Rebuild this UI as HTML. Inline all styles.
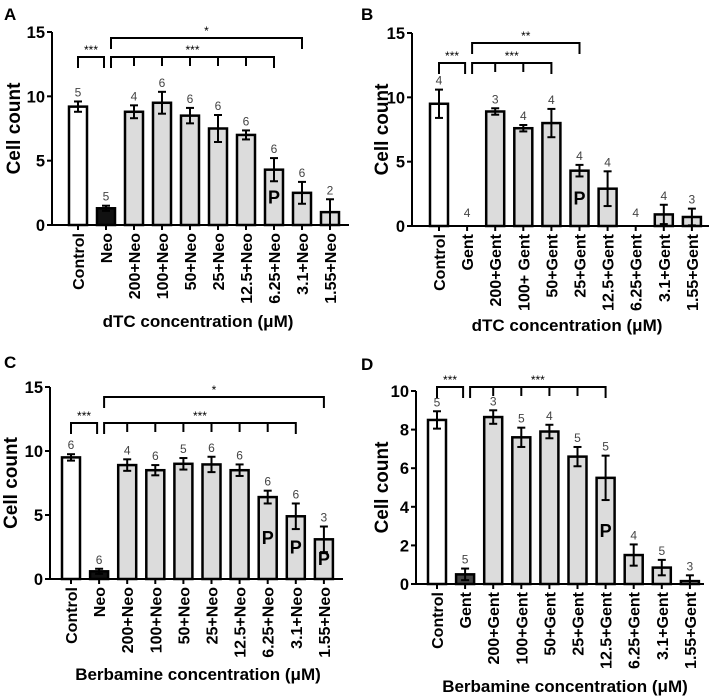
<!DOCTYPE html>
<html><head><meta charset="utf-8"><style>
html,body{margin:0;padding:0;background:#fff;}
svg{display:block;font-family:"Liberation Sans",Arial,sans-serif;}
</style></head><body>
<svg id="fig" width="714" height="697" viewBox="0 0 714 697"></svg>
<script>
// Panel A data
const catsA = ["Control","Neo","200+Neo","100+Neo","50+Neo","25+Neo","12.5+Neo","6.25+Neo","3.1+Neo","1.55+Neo"];
const valsA = [9.2,1.3,8.8,9.5,8.5,7.5,7.0,4.3,2.5,1.0];
const errsA = [0.4,0.2,0.5,0.85,0.6,1.05,0.35,0.9,0.85,1.0];
const nA = ["5","5","4","6","6","6","6","6","6","2"];
const pA = [7];
// Panel B data
const catsB = ["Control","Gent","200+Gent","100+ Gent","50+Gent","25+Gent","12.5+Gent","6.25+Gent","3.1+Gent","1.55+Gent"];
const valsB = [9.5,0,8.9,7.6,8.0,4.3,2.9,0,0.9,0.7];
const errsB = [1.1,0,0.25,0.25,1.1,0.45,1.35,0,0.75,0.65];
const nB = ["4","4","3","4","4","4","4","4","4","3"];
const pB = [5];
// Panel C data
const catsC = ["Control","Neo","200+Neo","100+Neo","50+Neo","25+Neo","12.5+Neo","6.25+Neo","3.1+Neo","1.55+Neo"];
const valsC = [9.5,0.6,8.9,8.5,9.0,8.95,8.5,6.4,4.9,3.1];
const errsC = [0.25,0.2,0.45,0.4,0.45,0.6,0.45,0.5,1.0,1.0];
const nC = ["6","6","4","6","5","6","6","6","6","3"];
const pC = [7,8,9];
// Panel D data
const catsD = ["Control","Gent","200+Gent","100+Gent","50+Gent","25+Gent","12.5+Gent","6.25+Gent","3.1+Gent","1.55+Gent"];
const valsD = [8.5,0.5,8.65,7.6,7.9,6.6,5.5,1.5,0.85,0.15];
const errsD = [0.45,0.3,0.35,0.5,0.35,0.5,1.15,0.55,0.4,0.3];
const nD = ["5","5","3","5","4","5","5","4","5","3"];
const pD = [6];
const ticksAB = [0,5,10,15];
const ticksD = [0,2,4,6,8,10];

const NS="http://www.w3.org/2000/svg";
const svg=document.getElementById('fig');
function mk(tag,attrs,parent,text){const e=document.createElementNS(NS,tag);for(const k in attrs)e.setAttribute(k,attrs[k]);if(text!==undefined)e.textContent=text;(parent||svg).appendChild(e);return e;}

function panel(cfg){
  const g=mk('g',{});
  
  
  const y=v=>cfg.y0-(v/cfg.ymax)*(cfg.y0-cfg.ytop);
  const x=i=>cfg.x0+i*cfg.step;
  let t=mk('text',{x:cfg.lx,y:cfg.ly,'font-size':17,'font-weight':'bold'},g,cfg.id);
  
  let ax=mk('line',{x1:cfg.ax,y1:cfg.ytop,x2:cfg.ax,y2:cfg.y0+1,stroke:'#000','stroke-width':2},g);
  
  let xa=mk('line',{x1:cfg.ax-1,y1:cfg.y0,x2:cfg.xend,y2:cfg.y0,stroke:'#000','stroke-width':2},g);
  
  cfg.ticks.forEach(v=>{
    mk('line',{x1:cfg.ax-5,y1:y(v),x2:cfg.ax,y2:y(v),stroke:'#000','stroke-width':2},g);
    let tl=mk('text',{x:cfg.ax-7,y:y(v)+6,'font-size':16.5,'font-weight':'bold','text-anchor':'end'},g,String(v));
    
  });
  let yt=mk('text',{x:0,y:0,'font-size':19,'font-weight':'bold','text-anchor':'middle',transform:`translate(${cfg.ylx},${(cfg.ytop+cfg.y0)/2}) rotate(-90)`},g,'Cell count');
  
  let xt=mk('text',{x:cfg.xtx,y:cfg.xty,'font-size':17,'font-weight':'bold','text-anchor':'middle'},g,cfg.xtitle);
  
  cfg.cats.forEach((c,i)=>{
    const cx=x(i),v=cfg.vals[i],e=cfg.errs[i];
    mk('line',{x1:cx,y1:cfg.y0,x2:cx,y2:cfg.y0+5,stroke:'#000','stroke-width':2},g);
    let lab=mk('text',{x:0,y:0,'font-size':16,'font-weight':'bold','text-anchor':'end',transform:`translate(${cx+6},${cfg.y0+8}) rotate(-90)`},g,c);
    
    if(v>0){
      const fill=i===0?'#fff':(i===1?cfg.ctrlFill:'#dcdcdc');
      let b=mk('rect',{x:cx-9,y:y(v),width:18,height:cfg.y0-y(v),fill:fill,stroke:'#000','stroke-width':2.5},g);
      
      
      mk('line',{x1:cx,y1:y(v+e),x2:cx,y2:y(Math.max(0,v-e)),stroke:'#000','stroke-width':2},g);
      mk('line',{x1:cx-4,y1:y(v+e),x2:cx+4,y2:y(v+e),stroke:'#000','stroke-width':2},g);
      if(v-e>0)mk('line',{x1:cx-4,y1:y(v-e),x2:cx+4,y2:y(v-e),stroke:'#000','stroke-width':2},g);
    }
    const top=v>0?y(v+e):cfg.y0-4;
    let n=mk('text',{x:cx,y:top-5,'font-size':12,'fill':'#444','text-anchor':'middle'},g,cfg.n[i]);
    
    if(cfg.p.includes(i)){
      let p=mk('text',{x:cx,y:Math.min(cfg.y0-6,y(v/2)+6),'font-size':18,'font-weight':'bold','text-anchor':'middle'},g,'P');
      
    }
  });
  cfg.brackets.forEach(br=>{
    const [a,b,by,stars]=br;
    const xa=x(a)+(a===1?5:0), xb=x(b)-(b===1?2:0);
    const bg=mk('g',{},g);
    
    mk('line',{x1:xa,y1:by,x2:xb,y2:by,stroke:'#000','stroke-width':2},bg);
    mk('line',{x1:xa,y1:by-1,x2:xa,y2:by+11,stroke:'#000','stroke-width':2},bg);
    mk('line',{x1:xb,y1:by-1,x2:xb,y2:by+11,stroke:'#000','stroke-width':2},bg);
    if(br[4])for(let k=a+1;k<b;k++)mk('line',{x1:x(k),y1:by,x2:x(k),y2:by+9,stroke:'#000','stroke-width':2},bg);
    mk('text',{x:(xa+xb)/2,y:by-3,'font-size':12,'text-anchor':'middle'},bg,stars);
  });
}
panel({id:'A',lx:4,ly:20,ax:52,ytop:32,y0:225,ymax:15,ticks:ticksAB,x0:78,step:28,xend:349,ylx:20,xtx:198,xty:327,xtitle:'dTC concentration (\u03bcM)',cats:catsA,vals:valsA,errs:errsA,n:nA,p:pA,ctrlFill:'#111',
  brackets:[[0,1,57,'***'],[1,7,57,'***',1],[1,8,38,'*']]});
panel({id:'B',lx:361,ly:20,ax:412,ytop:33,y0:226,ymax:15,ticks:ticksAB,x0:439,step:28.1,xend:709,ylx:388,xtx:567,xty:331,xtitle:'dTC concentration (\u03bcM)',cats:catsB,vals:valsB,errs:errsB,n:nB,p:pB,ctrlFill:'#111',
  brackets:[[0,1,63,'***'],[1,4,63,'***',1],[1,5,43,'**']]});
panel({id:'C',lx:4,ly:368,ax:50,ytop:387,y0:579,ymax:15,ticks:ticksAB,x0:71,step:28.1,xend:343,ylx:17,xtx:198,xty:680,xtitle:'Berbamine concentration (\u03bcM)',cats:catsC,vals:valsC,errs:errsC,n:nC,p:pC,ctrlFill:'#111',
  brackets:[[0,1,423,'***'],[1,8,423,'***',1],[1,9,397,'*']]});
panel({id:'D',lx:361,ly:370,ax:416,ytop:391,y0:584,ymax:10,ticks:ticksD,x0:437,step:28.1,xend:704,ylx:388,xtx:565,xty:692,xtitle:'Berbamine concentration (\u03bcM)',cats:catsD,vals:valsD,errs:errsD,n:nD,p:pD,ctrlFill:'#444',
  brackets:[[0,1,387,'***'],[1,6,387,'***',1]]});
</script>
</body></html>
